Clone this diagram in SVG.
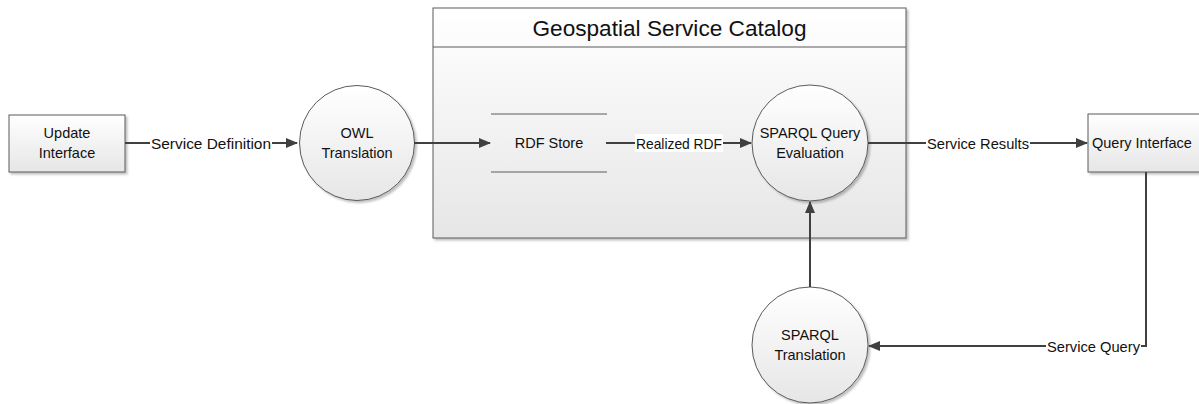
<svg xmlns="http://www.w3.org/2000/svg" width="1199" height="404" viewBox="0 0 1199 404">
<style>
text{font-family:"Liberation Sans",Arial,sans-serif;fill:#111;font-size:14.5px}
.c{text-anchor:middle}
.l{font-size:15px}
.shape{stroke:#5a5a5a;stroke-width:1}
.conn{stroke:#404040;stroke-width:2;fill:none}
.lbl{fill:#fff}
</style>
<defs>
<linearGradient id="g" x1="0" y1="0" x2="0" y2="1"><stop offset="0" stop-color="#ffffff"/><stop offset="1" stop-color="#e6e6e6"/></linearGradient>
<filter id="sh" x="-10%" y="-10%" width="130%" height="130%"><feDropShadow dx="2" dy="2" stdDeviation="1.2" flood-color="#000" flood-opacity="0.25"/></filter>
<marker id="ar" markerWidth="12" markerHeight="10" refX="11" refY="5" orient="auto" markerUnits="userSpaceOnUse"><path d="M0,0 L12,5 L0,10 Z" fill="#404040"/></marker>
</defs>
<g id="catalog">
<rect x="433" y="8" width="473" height="230" fill="url(#g)" class="shape" filter="url(#sh)"/>
<line x1="433" y1="47" x2="906" y2="47" class="shape"/>
<text x="669.5" y="36" class="c" style="font-size:22px" textLength="274" lengthAdjust="spacingAndGlyphs">Geospatial Service Catalog</text>
</g>
<g id="update-interface">
<rect x="9" y="115" width="116" height="57" fill="url(#g)" class="shape" filter="url(#sh)"/>
<text x="67" y="138" class="c">Update</text>
<text x="67" y="158" class="c">Interface</text>
</g>
<g id="owl-translation">
<circle cx="357" cy="143" r="57.5" fill="url(#g)" class="shape" filter="url(#sh)"/>
<text x="357" y="138" class="c">OWL</text>
<text x="357" y="158" class="c">Translation</text>
</g>
<g id="rdf-store">
<line x1="491" y1="114" x2="607" y2="114" class="shape"/>
<line x1="491" y1="172" x2="607" y2="172" class="shape"/>
<text x="549" y="148" class="c">RDF Store</text>
</g>
<g id="sparql-query-evaluation">
<circle cx="810" cy="143" r="58" fill="url(#g)" class="shape" filter="url(#sh)"/>
<text x="810" y="138" class="c">SPARQL Query</text>
<text x="810" y="158" class="c">Evaluation</text>
</g>
<g id="query-interface">
<rect x="1088" y="114" width="120" height="58" fill="url(#g)" class="shape" filter="url(#sh)"/>
<text x="1092" y="148">Query Interface</text>
</g>
<g id="sparql-translation">
<circle cx="810" cy="345" r="58" fill="url(#g)" class="shape" filter="url(#sh)"/>
<text x="810" y="340" class="c">SPARQL</text>
<text x="810" y="360" class="c">Translation</text>
</g>
<g id="connectors">
<line x1="125" y1="143" x2="297" y2="143" class="conn" marker-end="url(#ar)"/>
<rect x="150" y="134" width="122" height="18" class="lbl"/>
<text x="211" y="148.5" class="c l" textLength="120" lengthAdjust="spacingAndGlyphs">Service Definition</text>
<line x1="414" y1="143" x2="490" y2="143" class="conn" marker-end="url(#ar)"/>
<line x1="606" y1="143" x2="751" y2="143" class="conn" marker-end="url(#ar)"/>
<rect x="635" y="134" width="88" height="18" class="lbl"/>
<text x="679" y="148.5" class="c l" textLength="86" lengthAdjust="spacingAndGlyphs">Realized RDF</text>
<line x1="868" y1="143" x2="1087" y2="143" class="conn" marker-end="url(#ar)"/>
<rect x="926" y="134" width="104" height="18" class="lbl"/>
<text x="978" y="148.5" class="c l" textLength="102" lengthAdjust="spacingAndGlyphs">Service Results</text>
<polyline points="1146,172 1146,346 869,346" class="conn" marker-end="url(#ar)"/>
<rect x="1046" y="337" width="95" height="18" class="lbl"/>
<text x="1093.5" y="351.5" class="c l" textLength="93" lengthAdjust="spacingAndGlyphs">Service Query</text>
<line x1="810" y1="287" x2="810" y2="202" class="conn" marker-end="url(#ar)"/>
</g>
</svg>
